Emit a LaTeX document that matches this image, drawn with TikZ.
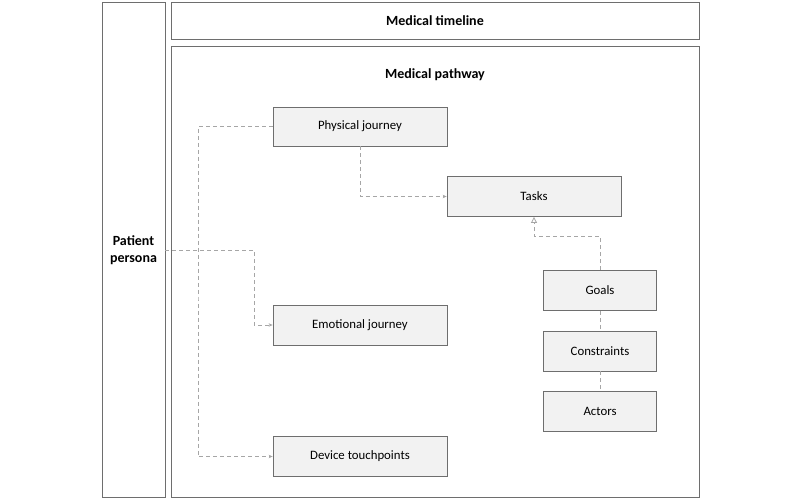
\documentclass[tikz,border=0pt]{standalone}
\usepackage{fontspec}
\setmainfont{Carlito}
\usetikzlibrary{arrows.meta}
\definecolor{boxfill}{HTML}{F2F2F2}
\definecolor{boxline}{HTML}{6E6E6E}
\definecolor{dashc}{HTML}{A6A6A6}
\begin{document}
\begin{tikzpicture}[x=1pt,y=-1pt,
  frame/.style={draw=boxline,line width=0.9pt,fill=white},
  stepbox/.style={draw=boxline,line width=0.8pt,fill=boxfill,font=\fontsize{12.8}{15}\selectfont},
  title/.style={font=\bfseries\fontsize{14}{17}\selectfont,align=center},
  conn/.style={draw=dashc,line width=0.8pt,dash pattern=on 4pt off 3pt,-{Stealth[length=4pt,width=3.5pt,fill=dashc]}},
  link/.style={draw=dashc,line width=0.8pt,dash pattern=on 4pt off 3pt},
  gen/.style={draw=dashc,line width=0.8pt,dash pattern=on 4pt off 3pt,-{Triangle[open,length=6pt,width=6pt]}}]
\useasboundingbox (0,0) rectangle (800,499);
% frames
\draw[frame] (102,2) rectangle (165,497);
\node[title] (persona) at (133.5,250) {Patient\\persona};
\coordinate (personaE) at (165,250);
\draw[frame] (171,2) rectangle (699,39);
\node[title] (timeline) at (435,20.5) {Medical timeline};
\draw[frame] (171,46) rectangle (699,497);
\node[title] (pathway) at (435,75) {Medical pathway};
% boxes
\node[stepbox,minimum width=174pt,minimum height=39pt] (phys) at (360,126.5) {Physical journey};
\node[stepbox,minimum width=174pt,minimum height=40pt] (tasks) at (534,196.5) {Tasks};
\node[stepbox,minimum width=174pt,minimum height=40pt] (emo) at (360,325) {Emotional journey};
\node[stepbox,minimum width=174pt,minimum height=40pt] (dev) at (360,456.5) {Device touchpoints};
\node[stepbox,minimum width=113pt,minimum height=40pt] (goals) at (600,290.5) {Goals};
\node[stepbox,minimum width=113pt,minimum height=40pt] (cons) at (600,351) {Constraints};
\node[stepbox,minimum width=113pt,minimum height=40pt] (act) at (600,411) {Actors};
% connectors
\draw[conn] (phys.west) -| (198,300) |- (dev.west);
\draw[conn] (personaE) -| (254,300) |- (emo.west);
\draw[conn] (phys.south) |- (tasks.west);
\draw[gen] (goals.north) |- (534,236.5) -- (tasks.south);
\draw[link] (goals.south) -- (cons.north);
\draw[link] (cons.south) -- (act.north);
\end{tikzpicture}
\end{document}
